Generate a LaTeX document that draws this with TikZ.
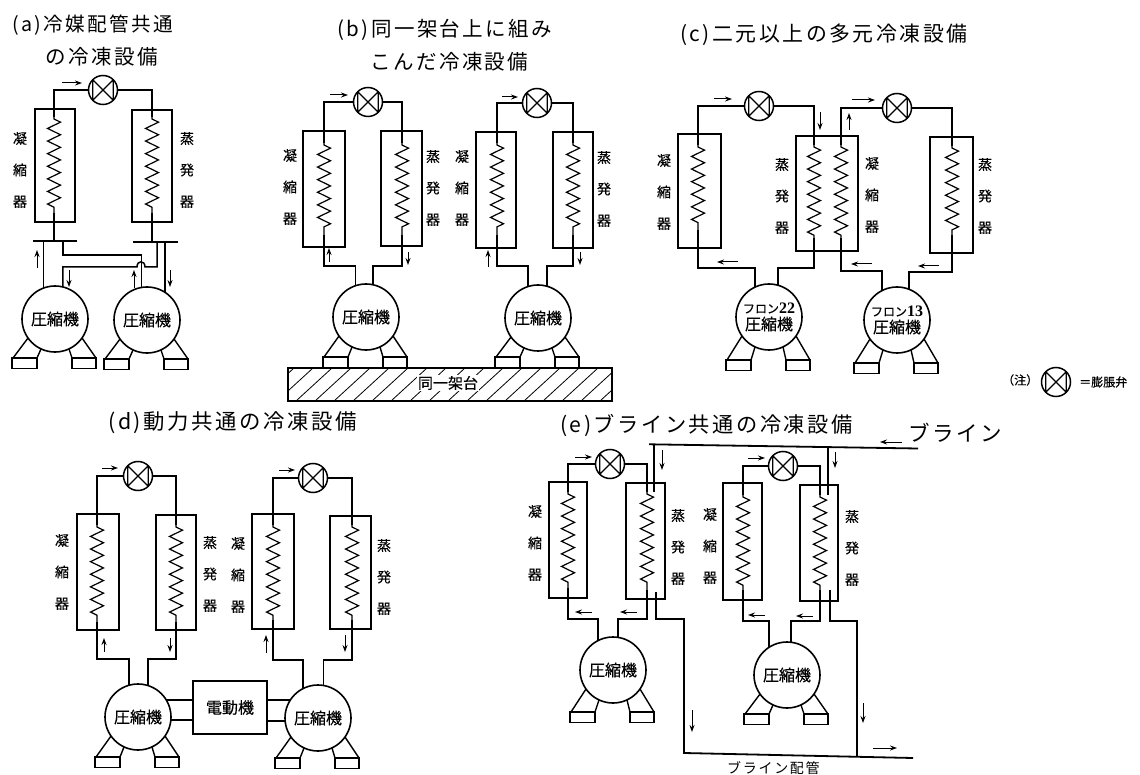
\documentclass[tikz,border=0pt]{standalone}
\usepackage{fontspec}
\usetikzlibrary{arrows.meta,decorations.pathmorphing}
\setmainfont{Liberation Serif}
\newfontfamily\cjk[FakeBold=0.35]{Noto Sans CJK JP}
\newfontfamily\cjkt[LetterSpace=12]{Noto Sans CJK JP}
\newfontfamily\latn{Liberation Serif}
\newcount\fc
\tikzset{
  pipe/.style={line width=1.5pt,line join=miter},
  brine/.style={line width=1.8pt,line join=miter},
  hx/.style={draw,rectangle,line width=1.4pt,inner sep=0pt,outer sep=0pt},
  zig/.style={line width=1.2pt,decorate,decoration={zigzag,segment length=12.6pt,amplitude=6.5pt,pre length=2pt,post length=2pt}},
  vlv/.style={draw,circle,line width=1.5pt,minimum size=29pt,inner sep=0pt,outer sep=0pt},
  vx/.style={line width=1.2pt},
  cmp/.style={draw,circle,line width=1.6pt,minimum size=66pt,inner sep=0pt,outer sep=0pt,align=center,font=\cjk\fontsize{16}{17}\selectfont},
  flowar/.style={line width=1pt,-{Stealth[length=7pt,width=5pt]}},
  vlab/.style={inner sep=0pt,align=center,font=\cjk\fontsize{14}{31.5}\selectfont},
  ttl/.style={anchor=west,inner sep=0pt,font=\cjkt\fontsize{20.5}{22}\selectfont},
  note/.style={anchor=west,inner sep=0pt,font=\cjk\fontsize{12}{13}\selectfont},
  barr/.style={fill=black,rectangle,inner sep=0pt,outer sep=0pt,minimum height=2.8pt},
  motor/.style={draw,rectangle,line width=1.4pt,minimum width=74pt,minimum height=53pt,inner sep=0pt,outer sep=0pt,font=\cjk\fontsize{16}{17}\selectfont},
}
% heat exchanger: name, xl, yt, xr, yb, coil x, coil top, coil bottom
\newcommand{\hxunit}[8]{%
  \node[hx,minimum width={#4-#2},minimum height={#5-#3}] (#1) at ({(#2+#4)/2},{(#3+#5)/2}) {};
  \coordinate (#1-t) at (#6,#7);
  \coordinate (#1-b) at (#6,#8);
  \draw[zig] (#1-t) -- (#1-b);
}
\newcommand{\vlvunit}[3]{%
  \node[vlv] (#1) at (#2,#3) {};
  \draw[vx] (#1.45)--(#1.225) (#1.135)--(#1.315) (#1.135)--(#1.225) (#1.45)--(#1.315);
}
% compressor: name, cx, cy, text, foot top offset
\newcommand{\comp}[5]{%
  \node[cmp] (#1) at (#2,#3) {#4};
  \begin{scope}[shift={(#2,#3)},line width=1.4pt]
    \draw (-27,19) -- (-42,#5) (-14,30) -- (-18,#5);
    \draw (27,19) -- (41,#5) (14,30) -- (17,#5);
    \draw (-43,#5) rectangle (-18,#5+10.5);
    \draw (17,#5) rectangle (41,#5+10.5);
  \end{scope}
}
\newcommand{\flow}[4]{%
  \global\advance\fc by 1
  \coordinate (fa\the\fc) at (#1,#2);
  \coordinate (fb\the\fc) at (#3,#4);
  \draw[flowar] (fa\the\fc) -- (fb\the\fc);
}
\newcommand{\lab}[3]{%
  \global\advance\fc by 1
  \node[vlab] (lb\the\fc) at (#1,#2) {#3};
}
\newcommand{\ttlnode}[4][20.5]{%
  \global\advance\fc by 1
  \node[ttl,font=\cjkt\fontsize{#1}{22}\selectfont] (tt\the\fc) at (#2,#3) {#4};
}
\newcommand{\ret}[3]{\draw[pipe] (#1) -- (#1 |- 0,#2) -| (#3);}
\newcommand{\cond}{凝\\縮\\器}
\newcommand{\evap}{蒸\\発\\器}
\begin{document}
\begin{tikzpicture}[x=1pt,y=-1pt]
\useasboundingbox (0,0) rectangle (1140,775);
\fill[white] (0,0) rectangle (1140,775);

%%% (a)
\ttlnode[19.6]{12}{25}{(a)冷媒配管共通}
\ttlnode{45}{57}{の冷凍設備}
\hxunit{ca}{35}{109}{75}{222}{54}{117}{213}
\hxunit{ea}{132}{110}{172}{222}{152}{117}{213}
\vlvunit{va}{103}{90}
\draw[pipe] (ca-t) |- (va);
\draw[pipe] (va) -| (ea-t);
\comp{ka}{55}{319}{圧縮機}{39}
\comp{kb}{147}{320}{圧縮機}{39}
\node[barr,minimum width=44pt] (ba) at (55,241) {};
\node[barr,minimum width=45pt] (bb) at (155,242) {};
\draw[pipe] (ca-b) -- (ca-b |- ba.north);
\draw[pipe] (ea-b) -- (ea-b |- bb.north);
\draw[pipe] (ka.110) -- (ka.110 |- ba.south);
\draw[pipe] (kb.57) -- (kb.57 |- bb.south);
\coordinate (p1) at (63,241);
\coordinate (p2) at (157,242);
\coordinate (q1) at (145,267);
\coordinate (q2) at (137,267);
\draw[pipe] (p1) -- (p1 |- 0,255) -| (kb.100);
\draw[pipe] (p2) |- (q1) .. controls (145,260) and (137,260) .. (q2) -| (ka.76);
\flow{62}{83}{82}{83}
\flow{37}{268}{37}{250}
\flow{69}{270}{69}{287}
\flow{134}{288}{134}{270}
\flow{170}{270}{170}{287}
\lab{20}{170}{\cond}
\lab{187}{170}{\evap}

%%% (b)
\ttlnode{337}{30}{(b)同一架台上に組み}
\ttlnode{370}{62}{こんだ冷凍設備}
\hxunit{cc}{303}{131}{345}{247}{324}{143}{235}
\hxunit{ec}{381}{131}{422}{246}{402}{143}{235}
\vlvunit{vc}{368}{102}
\draw[pipe] (cc-t) |- (vc);
\draw[pipe] (vc) -| (ec-t);
\comp{kc}{366}{317}{圧縮機}{40}
\ret{kc.109}{266}{cc-b}
\ret{kc.78}{266}{ec-b}
\flow{330}{95}{348}{95}
\flow{329}{262}{329}{248}
\flow{408}{252}{408}{265}
\lab{290}{187}{\cond}
\lab{433}{188}{\evap}
\hxunit{cd}{476}{132}{516}{248}{497}{143}{235}
\hxunit{ed}{553}{132}{593}{248}{573}{143}{235}
\vlvunit{vd}{537}{103}
\draw[pipe] (cd-t) |- (vd);
\draw[pipe] (vd) -| (ed-t);
\comp{kd}{538}{318}{圧縮機}{39}
\ret{kd.108}{266}{cd-b}
\ret{kd.74}{266}{ed-b}
\flow{502}{97}{518}{97}
\flow{488}{267}{488}{250}
\flow{580}{252}{580}{265}
\lab{462}{188}{\cond}
\lab{604}{189}{\evap}
\node[rectangle,draw,line width=1.5pt,minimum width=324pt,minimum height=33pt,inner sep=0pt,outer sep=0pt] (base) at (450,384.5) {};
\begin{scope}
  \clip (base.south west) rectangle (base.north east);
  \foreach \i in {0,...,19} {\draw[line width=.8pt] ({258+\i*19},401) -- ++(36,-33);}
\end{scope}
\node[fill=white,inner sep=1pt,font=\cjk\fontsize{15}{16}\selectfont] (baselab) at (448,383) {同一架台};

%%% (c)
\ttlnode[20.9]{680}{35}{(c)二元以上の多元冷凍設備}
\hxunit{ce}{678}{134}{721}{248}{698}{145}{230}
\hxunit{em}{796}{136}{858}{251}{814}{145}{238}
\coordinate (cf-t) at (841,145);
\coordinate (cf-b) at (841,238);
\draw[zig] (cf-t) -- (cf-b);
\hxunit{ef}{930}{137}{973}{253}{952}{146}{235}
\vlvunit{ve}{759}{106}
\vlvunit{vf}{897}{108}
\draw[pipe] (ce-t) |- (ve);
\draw[pipe] (ve) -| (em-t);
\draw[pipe] (cf-t) |- (vf);
\draw[pipe] (vf) -| (ef-t);
\comp{ke}{769}{317}{{\fontsize{12}{14}\selectfont フロン}{\latn\bfseries 22}\\圧縮機}{43}
\comp{kf}{897}{320}{{\fontsize{12}{14}\selectfont フロン}{\latn\bfseries 13}\\圧縮機}{43}
\ret{ke.115}{268}{ce-b}
\ret{ke.74}{268}{em-b}
\ret{kf.117}{271}{cf-b}
\ret{kf.69}{272}{ef-b}
\flow{714}{99}{732}{99}
\flow{820}{112}{820}{130}
\flow{849}{130}{849}{113}
\flow{852}{100}{875}{100}
\flow{738}{262}{717}{262}
\flow{872}{264}{851}{264}
\flow{939}{266}{918}{266}
\lab{664}{192}{\cond}
\lab{782}{196}{\evap}
\lab{872}{195}{\cond}
\lab{985}{196}{\evap}
\node[note] (nt1) at (1002,380) {（注）};
\vlvunit{vn}{1056}{382}
\node[note] (nt2) at (1079,382) {＝膨脹弁};

%%% (d)
\ttlnode[21.4]{108}{423}{(d)動力共通の冷凍設備}
\hxunit{cg}{77}{514}{119}{630}{97}{525}{622}
\hxunit{eg}{156}{515}{196}{630}{176}{525}{622}
\vlvunit{vg}{138}{476}
\draw[pipe] (cg-t) |- (vg);
\draw[pipe] (vg) -| (eg-t);
\comp{kg}{138}{717}{圧縮機}{40}
\ret{kg.106}{659}{cg-b}
\ret{kg.72}{659}{eg-b}
\hxunit{ch}{252}{514}{294}{629}{273}{525}{620}
\hxunit{eh}{330}{516}{371}{629}{352}{525}{620}
\vlvunit{vh}{313}{478}
\draw[pipe] (ch-t) |- (vh);
\draw[pipe] (vh) -| (eh-t);
\comp{kh}{318}{718}{圧縮機}{40}
\ret{kh.117}{660}{ch-b}
\ret{kh.80}{660}{eh-b}
\node[motor] (mt) at (230,707.5) {電動機};
\draw[pipe] (kg.31) -- (kg.31 -| mt.west);
\draw[pipe] (kg.-5) -- (kg.-5 -| mt.west);
\draw[pipe] (kh.147) -- (kh.147 -| mt.east);
\draw[pipe] (kh.185) -- (kh.185 -| mt.east);
\flow{102}{468}{118}{468}
\flow{104}{652}{104}{638}
\flow{170}{638}{170}{652}
\flow{279}{470}{295}{470}
\flow{266}{653}{266}{635}
\flow{345}{635}{345}{652}
\lab{62}{572}{\cond}
\lab{210}{574}{\evap}
\lab{238}{575}{\cond}
\lab{384}{577}{\evap}

%%% (e)
\ttlnode[21.2]{560}{425}{(e)ブライン共通の冷凍設備}
\ttlnode[21.5]{908}{433}{ブライン}
\hxunit{ci}{549}{482}{587}{598}{568}{492}{588}
\hxunit{ei}{626}{483}{665}{599}{647}{492}{590}
\vlvunit{vi}{610}{464}
\draw[pipe] (ci-t) |- (vi);
\draw[pipe] (vi) -| (ei-t);
\comp{ki}{613}{670}{圧縮機}{42}
\ret{ki.117}{619}{ci-b}
\ret{ki.81}{619}{ei-b}
\hxunit{cj}{723}{483}{762}{600}{743}{495}{590}
\hxunit{ej}{800}{485}{838}{601}{820}{495}{590}
\vlvunit{vj}{783}{466}
\draw[pipe] (cj-t) |- (vj);
\draw[pipe] (vj) -| (ej-t);
\comp{kj}{787}{675}{圧縮機}{39}
\ret{kj.123}{621}{cj-b}
\ret{kj.83}{621}{ej-b}
% brine
\coordinate (bt0) at (649,444.3);
\coordinate (bt1) at (918,448.5);
\coordinate (bb0) at (684,753);
\coordinate (bb1) at (913,758);
\coordinate (ti1) at (654,492);
\coordinate (ti2) at (656,592);
\coordinate (tj1) at (828,495);
\coordinate (tj2) at (830,590);
\coordinate (ti0) at (654,444.8);
\coordinate (tj0) at (828,447.2);
\coordinate (bbj) at (857,756.8);
\draw[brine] (bt0) -- (bt1);
\draw[brine] (ti0) -- (ti1);
\draw[brine] (tj0) -- (tj1);
\draw[brine] (ti2) -- (656,619) -- (684,619) -- (bb0) -- (bb1);
\draw[brine] (tj2) -- (830,621) -- (857,621) -- (bbj);
\flow{575}{457}{592}{457}
\flow{748}{458}{765}{458}
\flow{662}{450}{662}{470}
\flow{835}{452}{835}{468}
\flow{902}{442}{880}{442}
\flow{592}{612}{575}{612}
\flow{637}{612}{620}{612}
\flow{765}{615}{748}{615}
\flow{813}{616}{796}{616}
\flow{692}{710}{692}{732}
\flow{863}{703}{863}{723}
\flow{873}{748}{897}{748}
\lab{535}{543}{\cond}
\lab{678}{547}{\evap}
\lab{710}{546}{\cond}
\lab{852}{548}{\evap}
\node[note,font=\cjkt\fontsize{14}{15}\selectfont] (bl) at (727,768) {ブライン配管};
\end{tikzpicture}
\end{document}
